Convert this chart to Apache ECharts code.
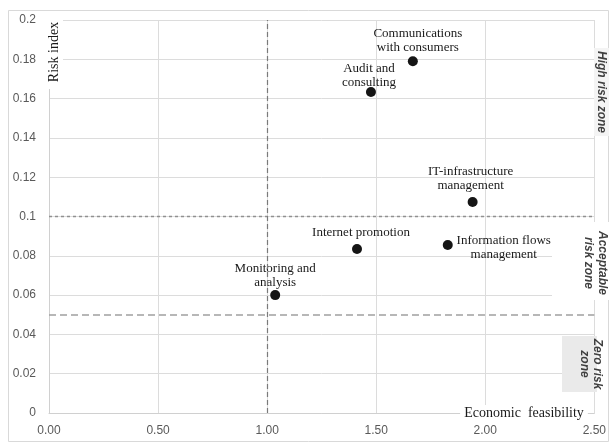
<!DOCTYPE html>
<html>
<head>
<meta charset="utf-8">
<script src="https://cdn.jsdelivr.net/npm/echarts@6/dist/echarts.min.js"></script>
<style>html,body{margin:0;padding:0;background:#fff}#c{width:609px;height:443px}</style>
</head>
<body>
<div id="c"></div>
<script>
const categories = ["Communications with consumers", "Audit and consulting", "IT-infrastructure management", "Information flows management", "Internet promotion", "Monitoring and analysis"];
const feasibility = [1.668, 1.476, 1.942, 1.828, 1.412, 1.037];
const risk = [0.179, 0.1634, 0.1074, 0.0855, 0.0835, 0.060];
const xTickLabels = ["0.00", "0.50", "1.00", "1.50", "2.00", "2.50"];
const yTickLabels = ["0", "0.02", "0.04", "0.06", "0.08", "0.1", "0.12", "0.14", "0.16", "0.18", "0.2"];
const highRiskBoundary = 0.101;
const zeroRiskBoundary = 0.049;
const feasibilityBoundary = 1.0;
const zoneLabels = ["High risk zone", "Acceptable\nrisk zone", "Zero risk\nzone"];
const xAxisTitle = "Economic  feasibility";
const yAxisTitle = "Risk index";

// label layout (line breaks / placement), kept apart from data
const labelLayout = {
  "Communications with consumers": {text: "Communications\nwith consumers", position: "top", distance: 2, offset: [5, 0]},
  "Audit and consulting": {text: "Audit and\nconsulting", position: "top", distance: 0, offset: [-2, 3]},
  "IT-infrastructure management": {text: "IT-infrastructure\nmanagement", position: "top", distance: 4, offset: [-2, 0]},
  "Information flows management": {text: "Information flows\nmanagement", position: "right", distance: 4, align: "center", offset: [47, 3]},
  "Internet promotion": {text: "Internet promotion", position: "top", distance: 4, offset: [4, 0]},
  "Monitoring and analysis": {text: "Monitoring and\nanalysis", position: "top", distance: 1, offset: [0, 0]}
};

const data = categories.map((name, i) => {
  const L = labelLayout[name];
  const lab = {show: true, position: L.position, distance: L.distance, offset: L.offset,
    formatter: L.text};
  if (L.align) lab.align = L.align;
  return {name: name, value: [feasibility[i], risk[i]], label: lab};
});

const chart = echarts.init(document.getElementById('c'), null, {renderer: 'canvas'});
const axisLabelStyle = {color: '#595959', fontSize: 12, fontFamily: 'Liberation Sans'};
const zoneFont = {fontSize: 12, fontWeight: 'bold', fontStyle: 'italic', fontFamily: 'Liberation Sans', fill: '#404040'};

chart.setOption({
  backgroundColor: '#fff',
  animation: false,
  grid: {left: 49, right: 12, top: 20, bottom: 30},
  xAxis: {
    type: 'value', min: 0, max: 2.5, interval: 0.5,
    axisLine: {show: true, lineStyle: {color: '#d0d0d0'}},
    axisTick: {show: false},
    splitLine: {lineStyle: {color: '#dcdcdc'}},
    axisLabel: Object.assign({margin: 12, formatter: v => xTickLabels[Math.round(v / 0.5)]}, axisLabelStyle)
  },
  yAxis: {
    type: 'value', min: 0, max: 0.2, interval: 0.02,
    axisLine: {show: true, lineStyle: {color: '#d0d0d0'}},
    axisTick: {show: false},
    splitLine: {lineStyle: {color: '#dcdcdc'}},
    axisLabel: Object.assign({margin: 13, formatter: v => yTickLabels[Math.round(v / 0.02)]}, axisLabelStyle)
  },
  series: [{
    type: 'scatter',
    symbolSize: 10,
    itemStyle: {color: '#151515', opacity: 1},
    label: {color: '#1a1a1a', fontSize: 13, fontFamily: 'Liberation Serif', lineHeight: 14},
    data: data,
    markLine: {
      silent: true, symbol: 'none', label: {show: false}, animation: false,
      data: [
        {yAxis: highRiskBoundary, lineStyle: {color: '#909090', type: [3, 3], width: 1.3}},
        {yAxis: zeroRiskBoundary, lineStyle: {color: '#a0a0a0', type: [7, 4], width: 1.5}},
        {xAxis: feasibilityBoundary, lineStyle: {color: '#7a7a7a', type: [5, 3], width: 1.2}}
      ]
    }
  }],
  graphic: [
    {type: 'rect', z: 50, silent: true, shape: {x: 8.5, y: 10.5, width: 600, height: 431}, style: {fill: 'none', stroke: '#d9d9d9', lineWidth: 1}},
    {type: 'rect', z: 100, shape: {x: 40, y: 14, width: 23, height: 75}, style: {fill: '#fff'}},
    {type: 'text', z: 101, x: 54, y: 52, rotation: Math.PI / 2,
      style: {text: yAxisTitle, fontSize: 14, fontFamily: 'Liberation Serif', fill: '#1a1a1a', align: 'center', verticalAlign: 'middle'}},
    {type: 'text', z: 101, x: 524, y: 413,
      style: {text: xAxisTitle, fontSize: 14, fontFamily: 'Liberation Serif', fill: '#1a1a1a', align: 'center', verticalAlign: 'middle', backgroundColor: '#fff', padding: [1, 4]}},
    {type: 'rect', z: 100, shape: {x: 594, y: 48, width: 15, height: 88}, style: {fill: '#f4f4f4'}},
    {type: 'text', z: 101, x: 601, y: 92, rotation: -Math.PI / 2,
      style: Object.assign({text: zoneLabels[0], align: 'center', verticalAlign: 'middle'}, zoneFont)},
    {type: 'rect', z: 100, shape: {x: 552, y: 222, width: 57, height: 78}, style: {fill: '#fff'}},
    {type: 'text', z: 101, x: 595, y: 263, rotation: -Math.PI / 2,
      style: Object.assign({text: zoneLabels[1], align: 'center', verticalAlign: 'middle', lineHeight: 14}, zoneFont)},
    {type: 'rect', z: 100, shape: {x: 562, y: 336, width: 35, height: 56}, style: {fill: '#eaeaea'}},
    {type: 'text', z: 101, x: 591, y: 364, rotation: -Math.PI / 2,
      style: Object.assign({text: zoneLabels[2], align: 'center', verticalAlign: 'middle', lineHeight: 13}, zoneFont)}
  ]
});
</script>
</body>
</html>
